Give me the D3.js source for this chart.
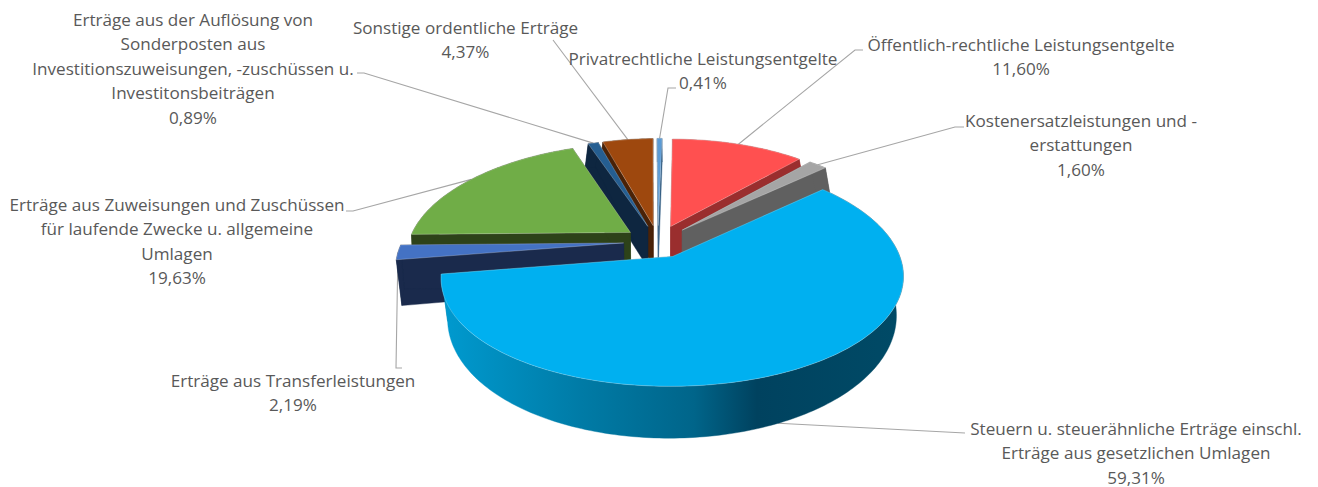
<!DOCTYPE html>
<html><head><meta charset="utf-8">
<style>html,body{margin:0;padding:0;background:#fff}svg{display:block}text{font-family:"Open Sans",sans-serif;font-size:17.1px;fill:#595959;text-anchor:middle;dominant-baseline:central}</style>
<script src="https://cdnjs.cloudflare.com/ajax/libs/d3/7.8.5/d3.min.js"></script>
</head><body><svg id="c" width="1318" height="487"></svg>
<script>
const categories=["Öffentlich-rechtliche Leistungsentgelte","Kostenersatzleistungen und -erstattungen","Steuern u. steuerähnliche Erträge einschl. Erträge aus gesetzlichen Umlagen","Erträge aus Transferleistungen","Erträge aus Zuweisungen und Zuschüssen für laufende Zwecke u. allgemeine Umlagen","Erträge aus der Auflösung von Sonderposten aus Investitionszuweisungen, -zuschüssen u. Investitonsbeiträgen","Sonstige ordentliche Erträge","Privatrechtliche Leistungsentgelte"];
const values=[11.60,1.60,59.31,2.19,19.63,0.89,4.37,0.41];
const labelLines=[["Öffentlich-rechtliche Leistungsentgelte"],["Kostenersatzleistungen und -","erstattungen"],["Steuern u. steuerähnliche Erträge einschl.","Erträge aus gesetzlichen Umlagen"],["Erträge aus Transferleistungen"],["Erträge aus Zuweisungen und Zuschüssen","für laufende Zwecke u. allgemeine","Umlagen"],["Erträge aus der Auflösung von","Sonderposten aus","Investitionszuweisungen, -zuschüssen u.","Investitonsbeiträgen"],["Sonstige ordentliche Erträge"],["Privatrechtliche Leistungsentgelte"]];
const topColors=["#FF5050","#A5A5A5","#00B0F0","#4472C4","#70AD47","#255E91","#9E480E","#5B9BD5"];
const wallColors=["#9A2E2E","#606060","#00789F","#1A2A4C","#2D4219","#0E2640","#4A2207","#2F5A80"];
const drawOrder=[7,6,5,0,4,1,3,2];
// layout
const labelPos=[[1021,44],[1081,120],[1136,428],[293,380],[177,204],[193,19],[465.5,27],[703,58]];
const leaderStart=[[[863,50],[855,50]],[[964,127],[955,127]],[[965,433]],[[402,368],[396,368]],[[346,211],[353,211]],[[357,73],[364,73]],[[553,40]],[[676,88],[668,88]]];
const lowerAnchor=[false,false,true,false,false,false,false,false];
const cx=658,cy=241.5,explode=.155,lineH=24.4,S=-4.5;
const A=221.5,B=105,k=.1525,kx=.18,A2=219,B2=119,k2=.1,kx2=.12,H=43.6;
const top3=(u,v)=>[cx+(A*u+S*v)/(1-kx*v),cy+B*v/(1-k*v)];
const low3=(u,v)=>[cx+(A2*u+S*v)/(1-kx2*v),cy+H+B2*v/(1-k2*v)];
const svg=d3.select("#c");
const defs=svg.append("defs");
const g=defs.append("linearGradient").attr("id","blueWall").attr("gradientUnits","userSpaceOnUse").attr("x1",447).attr("x2",896).attr("y1",0).attr("y2",0);
[[0,"#0099CE"],[.3,"#007BA6"],[.55,"#00658A"],[.69,"#00425F"],[1,"#004A66"]].forEach(s=>g.append("stop").attr("offset",s[0]).attr("stop-color",s[1]));
const pie=d3.pie().sort(null).value(d=>d)(values);
const line=d3.line();
const slices=pie.map(p=>{
  const mid=(p.startAngle+p.endAngle)/2;
  const ou=explode*Math.sin(mid),ov=-explode*Math.cos(mid);
  const n=Math.max(2,Math.ceil((p.endAngle-p.startAngle)/.02));
  const rim=d3.range(n+1).map(i=>{const a=p.startAngle+(p.endAngle-p.startAngle)*i/n;return [ou+Math.sin(a),ov-Math.cos(a)]});
  return {ou,ov,rim,mid};
});
const proj=(pts,f)=>pts.map(d=>f(d[0],d[1]));
// leaders (behind the slices)
categories.forEach((c,i)=>{
  const s=slices[i],u=s.ou+Math.sin(s.mid),v=s.ov-Math.cos(s.mid);
  const end=lowerAnchor[i]?low3(u,v):top3(u,v);
  svg.append("path").attr("d",line(leaderStart[i].concat([end]))).attr("fill","none").attr("stroke","#A6A6A6").attr("stroke-width",1.1);
});
drawOrder.forEach(i=>{
  const s=slices[i],layer=svg.append("g");
  const tRim=proj(s.rim,top3),lRim=proj(s.rim,low3);
  const ta=top3(s.ou,s.ov),la=low3(s.ou,s.ov);
  const wall=i===2?"url(#blueWall)":wallColors[i];
  const face=(pts,fill)=>layer.append("path").attr("d",line(pts)+"Z").attr("fill",fill).attr("stroke",fill).attr("stroke-width",.4);
  face([ta,tRim[0],lRim[0],la],wallColors[i]);
  face([ta,tRim[tRim.length-1],lRim[lRim.length-1],la],wallColors[i]);
  face(tRim.concat(lRim.slice().reverse()),wall);
  layer.append("path").attr("d",line([ta].concat(tRim))+"Z").attr("fill",topColors[i]).attr("stroke","#fff").attr("stroke-opacity",.35).attr("stroke-width",.7);
});
// labels
const fmt=d3.formatLocale({decimal:",",thousands:".",grouping:[3],currency:["","€"]}).format(".2f");
categories.forEach((c,i)=>{
  const lines=labelLines[i].concat([fmt(values[i])+"%"]);
  const t=svg.append("text").attr("x",labelPos[i][0]).attr("y",labelPos[i][1]);
  lines.forEach((l,j)=>t.append("tspan").attr("x",labelPos[i][0]).attr("y",labelPos[i][1]+j*lineH).text(l));
});
</script></body></html>
